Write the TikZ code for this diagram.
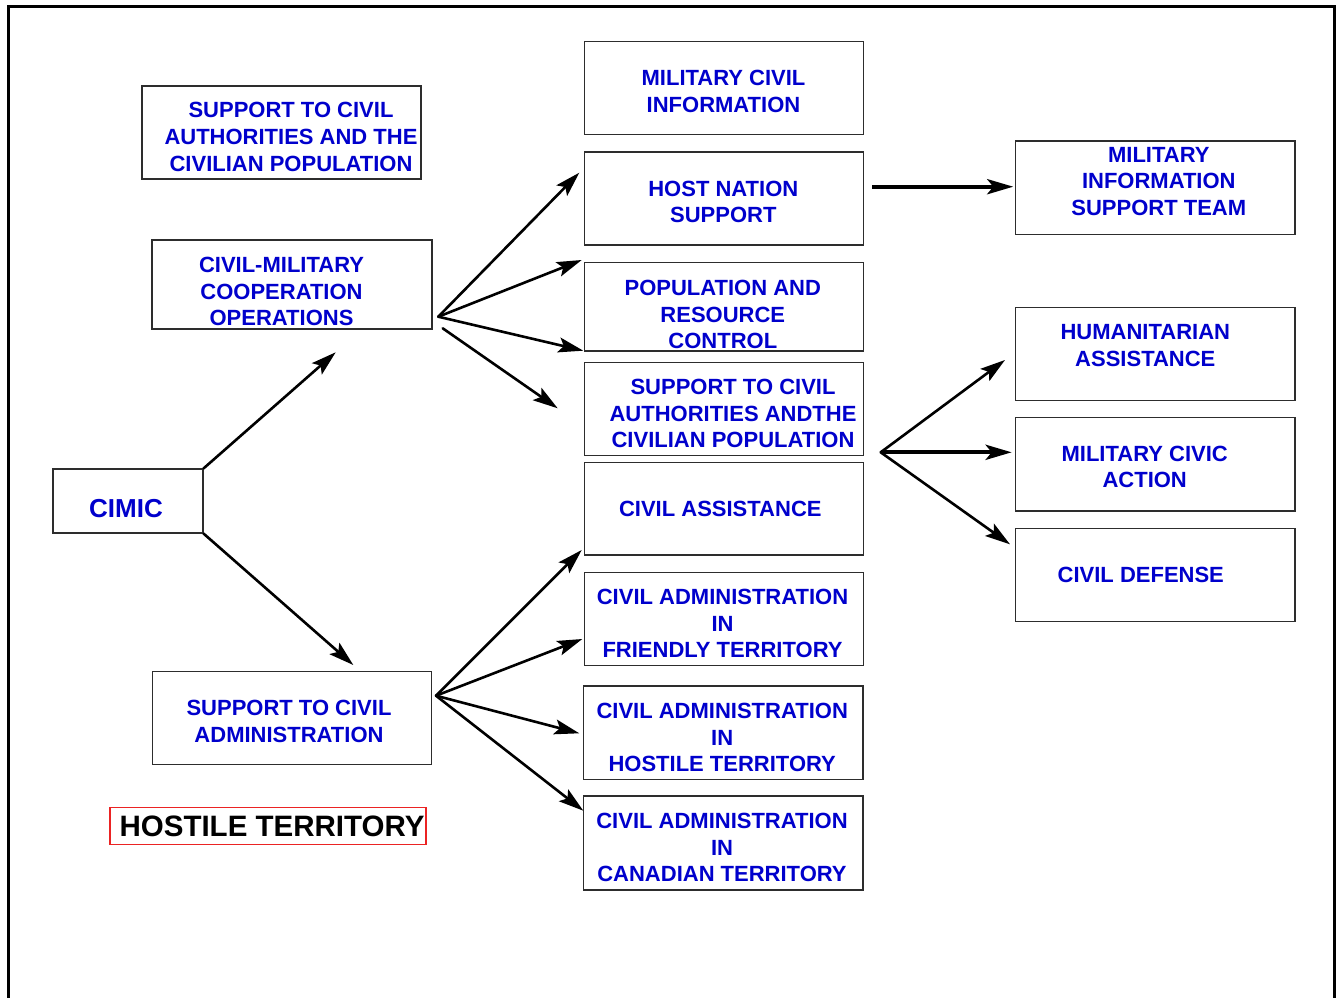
\documentclass[tikz,border=0pt]{standalone}
\usepackage{fontspec}
\setmainfont{Liberation Sans}
\usetikzlibrary{arrows.meta}
\definecolor{txtblue}{RGB}{0,0,204}
\definecolor{boxline}{RGB}{45,45,45}
\definecolor{tagred}{RGB}{235,35,35}
\begin{document}
\begin{tikzpicture}[x=1pt,y=-1pt,
  box/.style={draw=boxline, line width=1.2pt, rectangle, inner sep=0pt},
  txt/.style={text=txtblue, font=\bfseries\fontsize{22}{26.6}\selectfont, align=center, inner sep=0pt},
  link/.style={line width=2.6pt, line cap=round, -{Stealth[length=25pt,width=15pt,inset=5pt]}},
  heavylink/.style={line width=4.2pt, -{Stealth[length=26pt,width=15pt,inset=6pt]}}
]
\useasboundingbox (0,0) rectangle (1338,998);

% open frame (no bottom edge)
\draw[line width=3pt] (8,998) -- (8,7) -- (1334,7) -- (1334,998);

% left column
\node[box, minimum width=279pt, minimum height=93pt] (sca1) at (281.5,132.5) {};
\node[txt] (sca1t) at (291,137) {SUPPORT TO CIVIL\\AUTHORITIES AND THE\\CIVILIAN POPULATION};

\node[box, minimum width=280pt, minimum height=89pt] (cmco) at (292,284.5) {};
\node[txt] (cmcot) at (281.5,291.5) {CIVIL-MILITARY\\COOPERATION\\OPERATIONS};

\node[box, minimum width=150pt, minimum height=64pt] (cimic) at (128,501) {};
\node[txt, font=\bfseries\fontsize{26}{30}\selectfont] (cimict) at (126,508.5) {CIMIC};

\node[box, minimum width=279pt, minimum height=93pt] (scadm) at (292.3,718.3) {};
\node[txt] (scadmt) at (289,721.5) {SUPPORT TO CIVIL\\ADMINISTRATION};

\node[draw=tagred, line width=1.2pt, minimum width=316pt, minimum height=37pt, inner sep=0pt] (hostile) at (268,826.3) {};
\node[font=\bfseries\fontsize{29.5}{34}\selectfont, inner sep=0pt] (hostilet) at (272,826) {HOSTILE TERRITORY};

% middle column
\node[box, minimum width=279pt, minimum height=92.6pt] (mci) at (723.8,88) {};
\node[txt] (mcit) at (723.5,91.5) {MILITARY CIVIL\\INFORMATION};

\node[box, minimum width=279pt, minimum height=93pt] (hns) at (723.8,198.5) {};
\node[txt] (hnst) at (723.3,202) {HOST NATION\\SUPPORT};

\node[box, minimum width=279pt, minimum height=88.3pt] (prc) at (723.8,306.8) {};
\node[txt] (prct) at (722.8,314.5) {POPULATION AND\\RESOURCE\\CONTROL};

\node[box, minimum width=279pt, minimum height=93.4pt] (sca2) at (723.8,409) {};
\node[txt] (sca2t) at (733,413.7) {SUPPORT TO CIVIL\\AUTHORITIES ANDTHE\\CIVILIAN POPULATION};

\node[box, minimum width=279pt, minimum height=92.7pt] (ca) at (723.8,508.7) {};
\node[txt] (cat) at (720.3,509) {CIVIL ASSISTANCE};

\node[box, minimum width=279pt, minimum height=93pt] (caft) at (723.8,619.2) {};
\node[txt] (caftt) at (722.5,623.7) {CIVIL ADMINISTRATION\\IN\\FRIENDLY TERRITORY};

\node[box, minimum width=279.7pt, minimum height=93.3pt] (caht) at (723.2,732.7) {};
\node[txt] (cahtt) at (722.2,737.8) {CIVIL ADMINISTRATION\\IN\\HOSTILE TERRITORY};

\node[box, minimum width=279.7pt, minimum height=94pt] (cact) at (723.2,843) {};
\node[txt] (cactt) at (722,847.8) {CIVIL ADMINISTRATION\\IN\\CANADIAN TERRITORY};

% right column
\node[box, minimum width=279.3pt, minimum height=93.3pt] (mist) at (1155.3,187.7) {};
\node[txt] (mistt) at (1158.8,181.3) {MILITARY\\INFORMATION\\SUPPORT TEAM};

\node[box, minimum width=279.3pt, minimum height=93pt] (ha) at (1155.3,353.8) {};
\node[txt] (hat) at (1145.3,345.3) {HUMANITARIAN\\ASSISTANCE};

\node[box, minimum width=279.3pt, minimum height=93.7pt] (mca) at (1155.3,464.2) {};
\node[txt] (mcat) at (1144.7,467) {MILITARY CIVIC\\ACTION};

\node[box, minimum width=279.3pt, minimum height=93pt] (cd) at (1155.3,574.8) {};
\node[txt] (cdt) at (1140.8,575) {CIVIL DEFENSE};

% connector end points
\coordinate (cmcoIn)   at (335.7,352.3);
\coordinate (scadmIn)  at (353.3,665);
\coordinate (cmcoFan)  at (438.3,316.7);
\coordinate (cmcoFanB) at (442.7,328.3);
\coordinate (hnsIn)    at (579.3,172.7);
\coordinate (prcInA)   at (581.7,260);
\coordinate (prcInB)   at (583.3,350.7);
\coordinate (sca2In)   at (557.7,408.3);
\coordinate (scadmFan) at (436,695.7);
\coordinate (caIn)     at (581.7,550);
\coordinate (caftIn)   at (582.3,639);
\coordinate (cahtIn)   at (579.3,733.3);
\coordinate (cactIn)   at (583.3,810.7);
\coordinate (hnsOut)   at (872,186.7);
\coordinate (mistIn)   at (1013.3,186.7);
\coordinate (sca2Fan)  at (880.7,452.3);
\coordinate (haIn)     at (1005,360);
\coordinate (mcaIn)    at (1011.7,452.3);
\coordinate (cdIn)     at (1010,544.3);

% connectors
\draw[link] (cimic.north east) -- (cmcoIn);
\draw[link] (cimic.south east) -- (scadmIn);

\draw[link] (cmcoFan) -- (hnsIn);
\draw[link] (cmcoFan) -- (prcInA);
\draw[link] (cmcoFan) -- (prcInB);
\draw[link] (cmcoFanB) -- (sca2In);

\draw[link] (scadmFan) -- (caIn);
\draw[link] (scadmFan) -- (caftIn);
\draw[link] (scadmFan) -- (cahtIn);
\draw[link] (scadmFan) -- (cactIn);

\draw[heavylink] (hnsOut) -- (mistIn);

\draw[link] (sca2Fan) -- (haIn);
\draw[heavylink] (sca2Fan) -- (mcaIn);
\draw[link] (sca2Fan) -- (cdIn);
\end{tikzpicture}
\end{document}
